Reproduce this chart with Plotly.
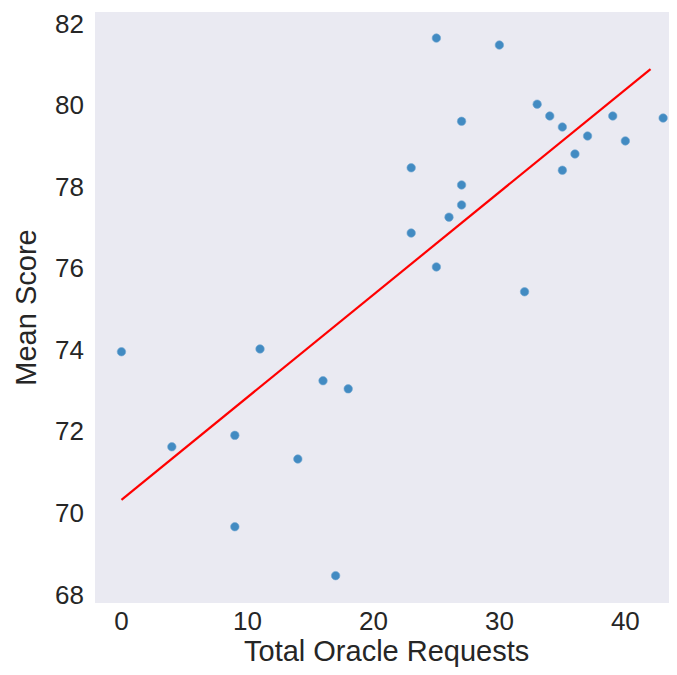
import plotly.graph_objects as go

oracle_requests = [0, 4, 9, 9, 11, 14, 16, 17, 18, 23, 23, 25, 25, 26, 27, 27, 27,
                   30, 32, 33, 34, 35, 35, 36, 37, 39, 40, 43]
mean_score = [73.95, 71.62, 71.9, 69.66, 74.02, 71.32, 73.24, 68.46, 73.04, 78.46,
              76.86, 81.64, 76.03, 77.25, 79.6, 78.04, 77.55, 81.47, 75.42, 80.02,
              79.73, 79.46, 78.4, 78.8, 79.24, 79.73, 79.12, 79.68]
fit_x = [0, 42]
fit_y = [70.32, 80.88]

x_ticks = [0, 10, 20, 30, 40]
y_ticks = [68, 70, 72, 74, 76, 78, 80, 82]

FONT = "Liberation Sans, Arial, sans-serif"

fig = go.Figure()
fig.add_trace(go.Scatter(
    x=oracle_requests, y=mean_score, mode="markers",
    marker=dict(size=8.5, color="#3a86c0", opacity=0.95,
                line=dict(width=0.6, color="#6fa6d2")),
    showlegend=False,
))
fig.add_trace(go.Scatter(
    x=fit_x, y=fit_y, mode="lines",
    line=dict(color="#ff0000", width=2.2),
    showlegend=False,
))

fig.update_layout(
    width=669, height=659,
    margin=dict(l=87, r=0, t=4, b=64),
    paper_bgcolor="white",
    plot_bgcolor="#eaeaf2",
    font=dict(family=FONT, color="#262626"),
    xaxis=dict(
        range=[-2.1, 44.1], tickvals=x_ticks, showgrid=False, zeroline=False,
        showline=False, ticks="", tickfont=dict(size=26), ticklabelstandoff=0,
    ),
    yaxis=dict(
        range=[67.79, 82.28], tickvals=y_ticks, showgrid=False, zeroline=False,
        showline=False, ticks="", tickfont=dict(size=26), ticklabelstandoff=10,
        title=dict(text="Mean Score", font=dict(size=29), standoff=9),
    ),
    annotations=[dict(
        text="Total Oracle Requests", xref="paper", yref="paper",
        x=0.5, y=-0.05, xanchor="center", yanchor="top", showarrow=False,
        font=dict(size=29, color="#262626"),
    )],
)

fig.write_html("out.html")
